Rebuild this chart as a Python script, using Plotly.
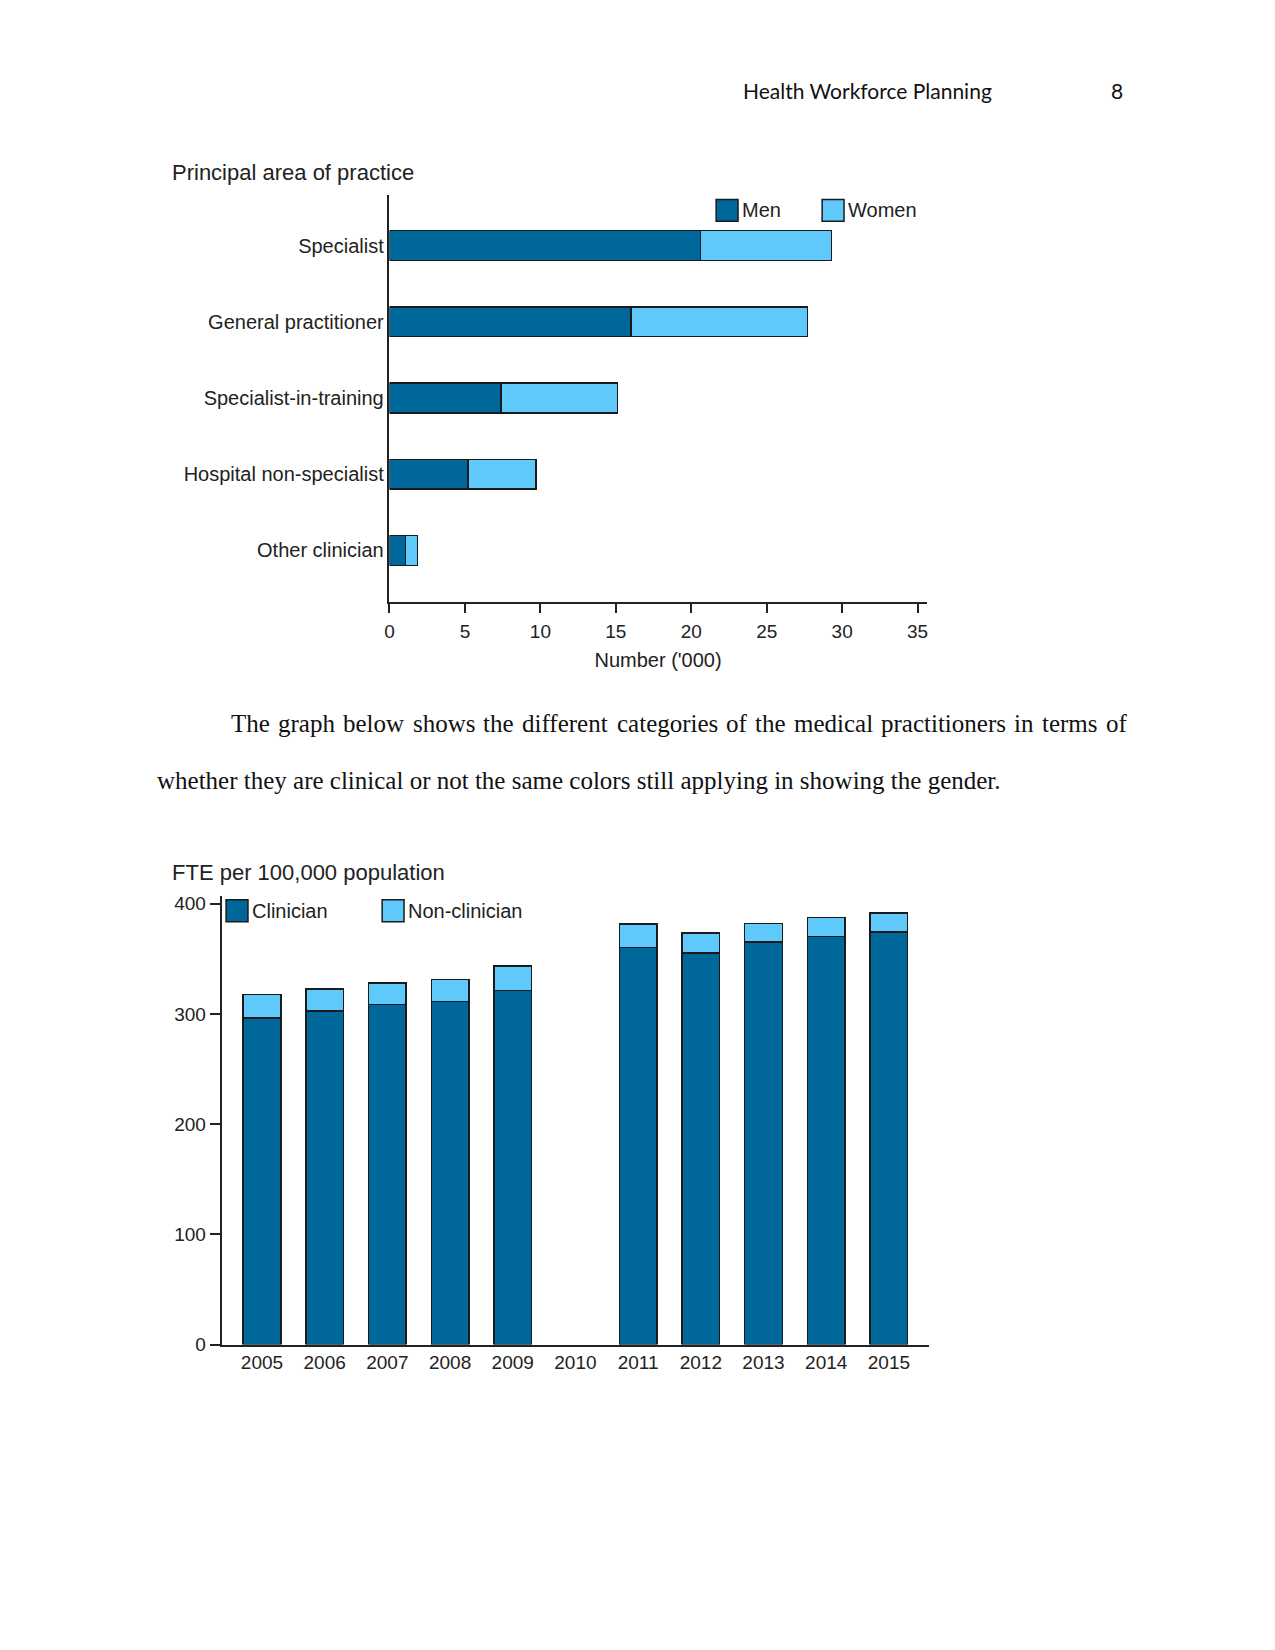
import plotly.graph_objects as go

# ---- Data: chart 1 (principal area of practice, number in '000) ----
areas = ["Specialist", "General practitioner", "Specialist-in-training",
         "Hospital non-specialist", "Other clinician"]
men = [20.6, 16.0, 7.4, 5.2, 1.05]
women = [8.7, 11.7, 7.7, 4.5, 0.8]
x_ticks_1 = [0, 5, 10, 15, 20, 25, 30, 35]

# ---- Data: chart 2 (FTE per 100,000 population) ----
years = ["2005", "2006", "2007", "2008", "2009", "2010",
         "2011", "2012", "2013", "2014", "2015"]
clinician = [296.5, 302.5, 308.5, 311.5, 321.5, None, 360.5, 355.5, 365.5, 370.5, 374.5]
non_clinician = [21.0, 20.0, 19.5, 19.8, 22.0, None, 21.0, 18.0, 16.5, 17.0, 17.0]
y_ticks_2 = [0, 100, 200, 300, 400]

DARK = "#00679B"
LIGHT = "#5EC9FA"
EDGE = "#1a1a1a"
INK = "#222222"
FONT = "Liberation Sans"

PAGE_W, PAGE_H = 1275, 1650
BODY = 8  # default page body margin around the plot div
W, H = PAGE_W - 2 * BODY, PAGE_H - 2 * BODY


def px(x):
    return (x - BODY) / W


def py(y):
    return 1 - (y - BODY) / H


fig = go.Figure()

# Chart 1 bars
fig.add_trace(go.Bar(y=areas, x=men, orientation="h", name="Men",
                     marker=dict(color=DARK, line=dict(color=EDGE, width=1.5)),
                     width=0.39, xaxis="x", yaxis="y", showlegend=False))
fig.add_trace(go.Bar(y=areas, x=women, orientation="h", name="Women",
                     marker=dict(color=LIGHT, line=dict(color=EDGE, width=1.5)),
                     width=0.39, xaxis="x", yaxis="y", showlegend=False))

# Chart 2 bars
fig.add_trace(go.Bar(x=years, y=clinician, name="Clinician",
                     marker=dict(color=DARK, line=dict(color=EDGE, width=1.5)),
                     width=0.6, xaxis="x2", yaxis="y2", showlegend=False))
fig.add_trace(go.Bar(x=years, y=non_clinician, name="Non-clinician",
                     marker=dict(color=LIGHT, line=dict(color=EDGE, width=1.5)),
                     width=0.6, xaxis="x2", yaxis="y2", showlegend=False))

line_common = dict(showgrid=False, zeroline=False, showline=True,
                   linecolor=INK, linewidth=1.5)

fig.update_layout(
    width=W, height=H,
    margin=dict(l=0, r=0, t=0, b=0),
    paper_bgcolor="white", plot_bgcolor="white",
    barmode="stack",
    font=dict(family=FONT, color=INK),
    xaxis=dict(domain=[px(386.3), px(926)], anchor="y", range=[0, 35.6],
               tickvals=x_ticks_1,
               ticks="outside", ticklen=10, tickwidth=1.5, tickcolor=INK,
               ticklabelstandoff=2,
               tickfont=dict(family=FONT, size=19, color=INK),
               title=dict(text="Number ('000)", font=dict(family=FONT, size=20, color=INK),
                          standoff=12),
               **line_common),
    yaxis=dict(domain=[py(604.3), py(194.7)], anchor="x",
               categoryorder="array", categoryarray=areas,
               autorange=False, range=[4.67, -0.66],
               ticks="", ticklabelstandoff=0,
               tickfont=dict(family=FONT, size=20, color=INK),
               **line_common),
    xaxis2=dict(domain=[px(217.5), px(928.4)], anchor="y2",
                categoryorder="array", categoryarray=years,
                range=[-0.646, 10.64], ticks="",
                tickfont=dict(family=FONT, size=19, color=INK),
                **line_common),
    yaxis2=dict(domain=[py(1353.3), py(900.7)], anchor="x2", range=[0, 407.4],
                tickvals=y_ticks_2,
                ticks="outside", ticklen=10, tickwidth=1.5, tickcolor=INK,
                tickfont=dict(family=FONT, size=19, color=INK),
                **line_common),
)

shapes = []
annotations = []

# Legends (drawn swatches + labels)
SW = 22
legend_items = [
    (714.5, 199, "Men", DARK), (821, 199, "Women", LIGHT),
    (222.1, 905.0, "Clinician", DARK), (378.9, 905.0, "Non-clinician", LIGHT),
]
for x0, y0, label, col in legend_items:
    shapes.append(dict(type="rect", xref="paper", yref="paper",
                       x0=px(x0), x1=px(x0 + SW), y0=py(y0 + SW), y1=py(y0),
                       fillcolor=col, line=dict(color=EDGE, width=1.5)))
    annotations.append(dict(xref="paper", yref="paper", x=px(x0 + SW + 2), y=py(y0 + SW / 2),
                            text=label, showarrow=False, xanchor="left", yanchor="middle",
                            font=dict(family=FONT, size=20, color=INK)))

# Chart titles
annotations.append(dict(xref="paper", yref="paper", x=px(165.5), y=py(171.6),
                        text="Principal area of practice", showarrow=False,
                        xanchor="left", yanchor="middle",
                        font=dict(family=FONT, size=22, color=INK)))
annotations.append(dict(xref="paper", yref="paper", x=px(165.5), y=py(877.9),
                        text="FTE per 100,000 population", showarrow=False,
                        xanchor="left", yanchor="middle",
                        font=dict(family=FONT, size=22, color=INK)))

# Page header
annotations.append(dict(xref="paper", yref="paper", x=px(739), y=py(89.5),
                        text="Health Workforce Planning", showarrow=False,
                        xanchor="left", yanchor="middle",
                        font=dict(family="Lato", size=21, color="#111")))
annotations.append(dict(xref="paper", yref="paper", x=px(1125), y=py(89.5),
                        text="8", showarrow=False, xanchor="right", yanchor="middle",
                        font=dict(family="Lato", size=21, color="#111")))

# Body text (Times-metric serif, 25px). First line is justified between 225 and 1125.
BODY_FONT = dict(family="Liberation Serif", size=25, color="#111")
TIMES_W = {" ": 250, "T": 611, "a": 444, "b": 500, "c": 444, "d": 500, "e": 444,
           "f": 333, "g": 500, "h": 500, "i": 278, "l": 278, "m": 778, "n": 500,
           "o": 500, "p": 500, "r": 333, "s": 389, "t": 278, "w": 722}
line1 = "The graph below shows the different categories of the medical practitioners in terms of"
words = line1.split(" ")
word_w = [sum(TIMES_W[c] for c in wd) * BODY_FONT["size"] / 1000 for wd in words]
left, right = 225.0, 1125.0
gap = (right - left - sum(word_w)) / (len(words) - 1)
cursor = left
for wd, ww in zip(words, word_w):
    annotations.append(dict(xref="paper", yref="paper", x=px(cursor), y=py(727),
                            text=wd, showarrow=False, xanchor="left", yanchor="middle",
                            font=BODY_FONT))
    cursor += ww + gap
annotations.append(dict(xref="paper", yref="paper", x=px(150.5), y=py(785),
                        text="whether they are clinical or not the same colors still applying in showing the gender.",
                        showarrow=False, xanchor="left", yanchor="middle",
                        font=BODY_FONT))

fig.update_layout(shapes=shapes, annotations=annotations)

fig.write_html("out.html")
